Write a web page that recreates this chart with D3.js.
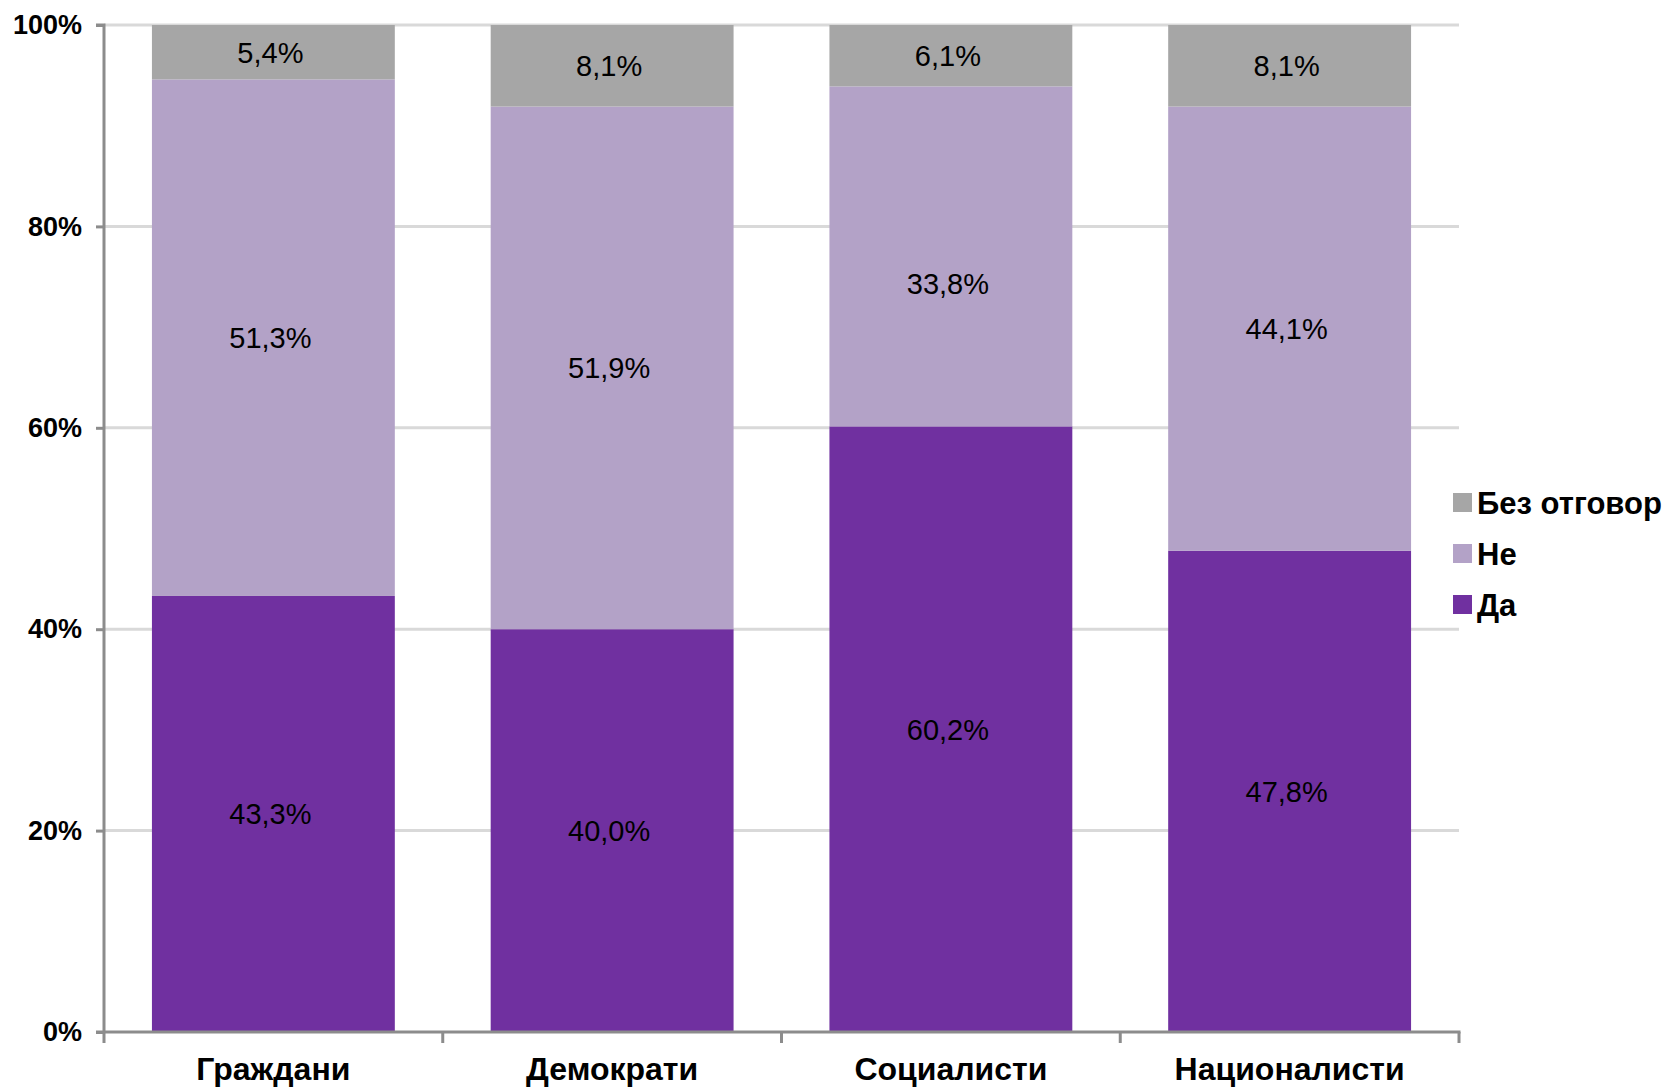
<!DOCTYPE html>
<html>
<head>
<meta charset="utf-8">
<script src="https://cdn.jsdelivr.net/npm/d3@7"></script>
<style>
  html, body { margin: 0; padding: 0; background: #fff; }
  svg { display: block; }
</style>
</head>
<body>
<svg id="chart" width="1667" height="1087"></svg>
<script>
const categories = ["Граждани", "Демократи", "Социалисти", "Националисти"];
const seriesNames = ["Да", "Не", "Без отговор"];
const da = [43.3, 40.0, 60.2, 47.8];
const ne = [51.3, 51.9, 33.8, 44.1];
const bezOtgovor = [5.4, 8.1, 6.1, 8.1];
const yTicks = [0, 0.2, 0.4, 0.6, 0.8, 1.0];
const colors = ["#7030a0", "#b3a2c7", "#a6a6a6"];

(function () {
const rows = categories.map((c, i) => ({ cat: c, "Да": da[i], "Не": ne[i], "Без отговор": bezOtgovor[i] }));

const svg = d3.select("#chart");
const pl = 104, pr = 1459, pt = 25, pb = 1032;

const x = d3.scaleBand().domain(categories).range([pl, pr]).paddingInner(0.283).paddingOuter(0.1415);
const y = d3.scaleLinear().domain([0, 1]).range([pb, pt]);

const stack = d3.stack().keys(seriesNames).offset(d3.stackOffsetExpand);
const stacked = stack(rows);

// gridlines
svg.append("g").selectAll("line").data(yTicks.filter(t => t > 0)).join("line")
  .attr("x1", pl).attr("x2", pr)
  .attr("y1", d => y(d)).attr("y2", d => y(d))
  .attr("stroke", "#d9d9d9").attr("stroke-width", 3);

// bars
const g = svg.append("g");
stacked.forEach((s, si) => {
  g.append("g").selectAll("rect").data(s).join("rect")
    .attr("x", d => x(d.data.cat))
    .attr("width", x.bandwidth())
    .attr("y", d => y(d[1]))
    .attr("height", d => y(d[0]) - y(d[1]))
    .attr("fill", colors[si]);
});

// labels (one label in the original was nudged down manually)
const nudge = (cat, key) => (cat === "Социалисти" && key === "Не") ? 27 : 0;
const fmt = v => v.toFixed(1).replace(".", ",") + "%";
stacked.forEach((s, si) => {
  svg.append("g").selectAll("text").data(s).join("text")
    .attr("x", d => x(d.data.cat) + x.bandwidth() / 2 - 3)
    .attr("y", d => (y(d[0]) + y(d[1])) / 2 + nudge(d.data.cat, seriesNames[si]))
    .attr("dy", "0.36em")
    .attr("text-anchor", "middle")
    .attr("font-family", "Liberation Sans, Arial, sans-serif")
    .attr("font-size", 29)
    .attr("fill", "#000")
    .text(d => fmt(d.data[seriesNames[si]]));
});

// y axis
const yAxis = d3.axisLeft(y).tickValues(yTicks).tickFormat(d3.format(".0%")).tickSize(8).tickPadding(14);
const ya = svg.append("g").attr("transform", `translate(${pl},0)`).call(yAxis);
ya.select(".domain").attr("stroke", "#8c8c8c").attr("stroke-width", 3)
  .attr("d", `M-8,${pt}H0V${pb + 11}`);
ya.selectAll(".tick line").attr("stroke", "#8c8c8c").attr("stroke-width", 3);
ya.selectAll(".tick text")
  .attr("font-family", "Liberation Sans, Arial, sans-serif")
  .attr("font-size", 27).attr("font-weight", "bold").attr("fill", "#000");

// x axis
const xa = svg.append("g").attr("transform", `translate(0,${pb})`);
xa.append("line").attr("x1", pl - 8).attr("x2", pr + 1.5).attr("y1", 0).attr("y2", 0)
  .attr("stroke", "#8c8c8c").attr("stroke-width", 3);
const boundaries = categories.map(c => x(c) - x.step() * x.paddingInner() / 2).slice(1).concat([pr]);
xa.selectAll("line.tk").data(boundaries).join("line").attr("class", "tk")
  .attr("x1", d => d).attr("x2", d => d).attr("y1", 0).attr("y2", 11)
  .attr("stroke", "#8c8c8c").attr("stroke-width", 3);
xa.selectAll("text").data(categories).join("text")
  .attr("x", d => x(d) + x.bandwidth() / 2)
  .attr("y", 48)
  .attr("text-anchor", "middle")
  .attr("font-family", "Liberation Sans, Arial, sans-serif")
  .attr("font-size", 32).attr("font-weight", "bold").attr("fill", "#000")
  .text(d => d);

// legend
const legendOrder = ["Без отговор", "Не", "Да"];
const lg = svg.append("g").attr("transform", "translate(1453,503)");
legendOrder.forEach((name, i) => {
  const row = lg.append("g").attr("transform", `translate(0,${i * 51})`);
  row.append("rect").attr("x", 0).attr("y", -10).attr("width", 19).attr("height", 19)
    .attr("fill", colors[seriesNames.indexOf(name)]);
  row.append("text").attr("x", 24).attr("y", 0).attr("dy", "0.36em")
    .attr("font-family", "Liberation Sans, Arial, sans-serif")
    .attr("font-size", 31).attr("font-weight", "bold").attr("fill", "#000")
    .text(name);
});
})();
</script>
</body>
</html>
